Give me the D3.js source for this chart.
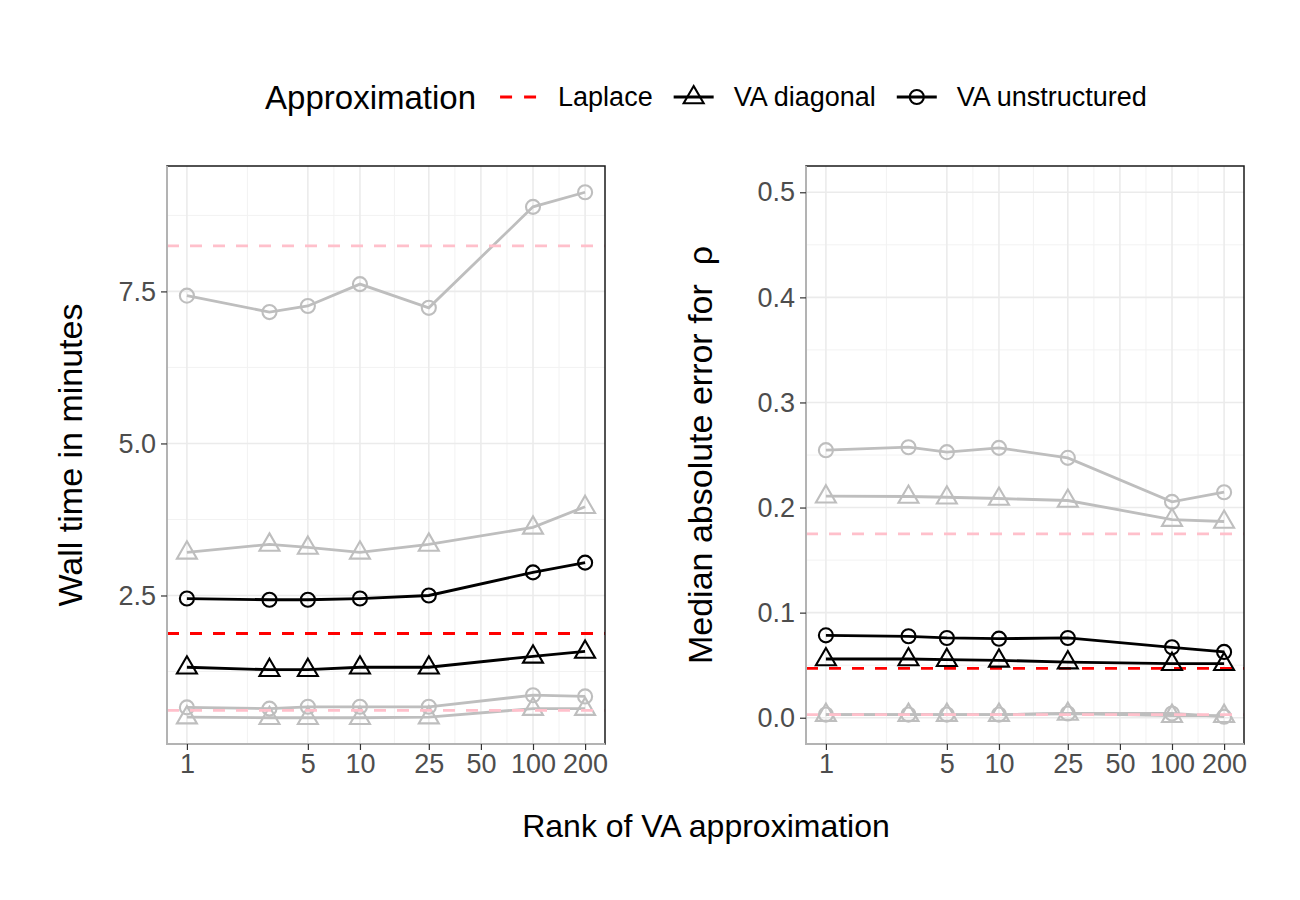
<!DOCTYPE html>
<html>
<head>
<meta charset="utf-8">
<script src="https://cdn.jsdelivr.net/npm/d3@7"></script>
<style>
  body { margin: 0; background: #fff; }
  text { font-family: "Liberation Sans", Arial, Helvetica, sans-serif; }
</style>
</head>
<body>
<div id="chart"></div>
<script>
/*
*    wall time and error vs rank of VA approximation
*/

// x: rank of the VA approximation
const ranks = [1, 3, 5, 10, 25, 100, 200];
const xTicks = [1, 5, 10, 25, 50, 100, 200];

// left panel: wall time in minutes (black = highlighted setting, gray = others)
const timeUnstructured = [2.45, 2.43, 2.43, 2.45, 2.50, 2.88, 3.04];
const timeDiagonal = [1.32, 1.28, 1.28, 1.32, 1.32, 1.50, 1.58];
const timeLaplace = 1.875;
const timeUnstructuredHigh = [7.43, 7.16, 7.26, 7.62, 7.23, 8.89, 9.13];
const timeDiagonalHigh = [3.21, 3.34, 3.29, 3.21, 3.34, 3.62, 3.96];
const timeLaplaceHigh = 8.25;
const timeUnstructuredLow = [0.66, 0.64, 0.67, 0.67, 0.67, 0.86, 0.84];
const timeDiagonalLow = [0.50, 0.49, 0.49, 0.49, 0.50, 0.64, 0.64];
const timeLaplaceLow = 0.61;
const timeTicks = [2.5, 5.0, 7.5];

// right panel: median absolute error for rho
const errUnstructured = [0.0784, 0.0775, 0.0759, 0.0752, 0.0759, 0.0670, 0.0626];
const errDiagonal = [0.0559, 0.0559, 0.0552, 0.0546, 0.0530, 0.0514, 0.0514];
const errLaplace = 0.047;
const errUnstructuredHigh = [0.2546, 0.2574, 0.2527, 0.2568, 0.2473, 0.2054, 0.2146];
const errDiagonalHigh = [0.2108, 0.2105, 0.2098, 0.2086, 0.2067, 0.1886, 0.1867];
const errLaplaceHigh = 0.175;
const errUnstructuredLow = [0.003, 0.003, 0.003, 0.003, 0.004, 0.004, 0.001];
const errDiagonalLow = [0.003, 0.003, 0.003, 0.003, 0.004, 0.002, 0.002];
const errLaplaceLow = 0.003;
const errTicks = [0.0, 0.1, 0.2, 0.3, 0.4, 0.5];

const legendLabels = ["Laplace", "VA diagonal", "VA unstructured"];

const width = 1300;
const height = 900;

const svg = d3.select("#chart")
    .append("svg")
    .attr("width", width)
    .attr("height", height);

const panelTop = 166, panelBottom = 744;

// log x scale with ggplot-like 5% expansion
function makeX(x0, x1) {
    const lo = Math.log10(1), hi = Math.log10(200);
    const pad = (hi - lo) * 0.05;
    return d3.scaleLog()
        .domain([Math.pow(10, lo - pad), Math.pow(10, hi + pad)])
        .range([x0, x1]);
}

function expand(lo, hi) {
    const pad = (hi - lo) * 0.05;
    return [lo - pad, hi + pad];
}

function panel(opts) {
    const x = makeX(opts.x0, opts.x1);
    const y = d3.scaleLinear().domain(opts.yDomain).range([panelBottom, panelTop]);
    const g = svg.append("g");

    // minor grid (midpoints of breaks)
    const xMinor = d3.pairs(xTicks).map(p => Math.sqrt(p[0] * p[1]));
    const yStep = opts.yTicks[1] - opts.yTicks[0];
    const yMinor = d3.range(opts.yTicks[0] - yStep / 2, opts.yDomain[1], yStep)
        .filter(v => v > opts.yDomain[0] && v < opts.yDomain[1]);

    g.selectAll(".xminor").data(xMinor).enter().append("line")
        .attr("x1", d => x(d)).attr("x2", d => x(d))
        .attr("y1", panelTop).attr("y2", panelBottom)
        .attr("stroke", "#f2f2f2").attr("stroke-width", 1);
    g.selectAll(".yminor").data(yMinor).enter().append("line")
        .attr("x1", opts.x0).attr("x2", opts.x1)
        .attr("y1", d => y(d)).attr("y2", d => y(d))
        .attr("stroke", "#f2f2f2").attr("stroke-width", 1);
    g.selectAll(".xmajor").data(xTicks).enter().append("line")
        .attr("x1", d => x(d)).attr("x2", d => x(d))
        .attr("y1", panelTop).attr("y2", panelBottom)
        .attr("stroke", "#ebebeb").attr("stroke-width", 1.6);
    g.selectAll(".ymajor").data(opts.yTicks).enter().append("line")
        .attr("x1", opts.x0).attr("x2", opts.x1)
        .attr("y1", d => y(d)).attr("y2", d => y(d))
        .attr("stroke", "#ebebeb").attr("stroke-width", 1.6);

    const line = d3.line()
        .x((d, i) => x(ranks[i]))
        .y(d => y(d));

    function hline(v, color) {
        g.append("line")
            .attr("x1", opts.x0).attr("x2", opts.x1)
            .attr("y1", y(v)).attr("y2", y(v))
            .attr("stroke", color)
            .attr("stroke-width", 2.8)
            .attr("stroke-dasharray", "12,11");
    }

    function series(values, color, shape) {
        g.append("path")
            .datum(values)
            .attr("d", line)
            .attr("fill", "none")
            .attr("stroke", color)
            .attr("stroke-width", 2.8);
        const pts = g.append("g").selectAll("path")
            .data(values).enter().append("path")
            .attr("transform", (d, i) => `translate(${x(ranks[i])},${y(d)})`)
            .attr("fill", "none")
            .attr("stroke", color)
            .attr("stroke-width", 2.1);
        if (shape === "circle") {
            pts.attr("d", d3.symbol().type(d3.symbolCircle).size(155));
        } else {
            pts.attr("d", "M0,-11L10,6.3L-10,6.3Z");
        }
    }

    // gray settings
    opts.gray.forEach(s => {
        series(s.unstructured, "#bebebe", "circle");
        series(s.diagonal, "#bebebe", "triangle");
    });
    opts.gray.forEach(s => hline(s.laplace, "#ffc0cb"));
    hline(opts.black.laplace, "#ff0000");
    series(opts.black.unstructured, "#000", "circle");
    series(opts.black.diagonal, "#000", "triangle");

    // panel border
    g.append("rect")
        .attr("x", opts.x0).attr("y", panelTop)
        .attr("width", opts.x1 - opts.x0).attr("height", panelBottom - panelTop)
        .attr("fill", "none").attr("stroke", "#1a1a1a").attr("stroke-width", 1.5);
    g.append("path")
        .attr("d", `M${opts.x0},${panelTop}V${panelBottom}H${opts.x1}`)
        .attr("fill", "none").attr("stroke", "#b3b3b3").attr("stroke-width", 2);

    // axes
    const xAxis = g.append("g")
        .attr("transform", `translate(0,${panelBottom})`)
        .call(d3.axisBottom(x).tickValues(xTicks).tickFormat(d3.format("d")).tickSize(6).tickPadding(4));
    const yAxis = g.append("g")
        .attr("transform", `translate(${opts.x0},0)`)
        .call(d3.axisLeft(y).tickValues(opts.yTicks).tickFormat(d3.format(".1f")).tickSize(6).tickPadding(5));
    [xAxis, yAxis].forEach(a => {
        a.select(".domain").remove();
        a.selectAll(".tick line").attr("stroke", "#333").attr("stroke-width", 1.2);
        a.selectAll(".tick text")
            .attr("fill", "#4d4d4d")
            .style("font-size", "27px");
    });

    // y title
    svg.append("text")
        .attr("transform", `translate(${opts.yTitleX},${(panelTop + panelBottom) / 2}) rotate(-90)`)
        .attr("text-anchor", "middle")
        .attr("dy", "0.35em")
        .style("font-size", "34px")
        .style("white-space", "pre")
        .text(opts.yTitle);
}

panel({
    x0: 167, x1: 605,
    yDomain: expand(
        d3.min([...timeDiagonalLow, ...timeUnstructuredLow, timeLaplaceLow]),
        d3.max([...timeUnstructuredHigh, timeLaplaceHigh])),
    yTicks: timeTicks,
    yTitle: "Wall time in minutes",
    yTitleX: 70,
    black: { unstructured: timeUnstructured, diagonal: timeDiagonal, laplace: timeLaplace },
    gray: [
        { unstructured: timeUnstructuredHigh, diagonal: timeDiagonalHigh, laplace: timeLaplaceHigh },
        { unstructured: timeUnstructuredLow, diagonal: timeDiagonalLow, laplace: timeLaplaceLow }
    ]
});

panel({
    x0: 806, x1: 1244,
    yDomain: expand(0, 0.5),
    yTicks: errTicks,
    yTitle: "Median absolute error for  \u03C1",
    yTitleX: 700,
    black: { unstructured: errUnstructured, diagonal: errDiagonal, laplace: errLaplace },
    gray: [
        { unstructured: errUnstructuredHigh, diagonal: errDiagonalHigh, laplace: errLaplaceHigh },
        { unstructured: errUnstructuredLow, diagonal: errDiagonalLow, laplace: errLaplaceLow }
    ]
});

// x title
svg.append("text")
    .attr("x", 706)
    .attr("y", 837)
    .attr("text-anchor", "middle")
    .style("font-size", "32px")
    .text("Rank of VA approximation");

// ===== LEGEND =====
const legend = svg.append("g");
const legendY = 97;
const title = legend.append("text")
    .attr("x", 0).attr("y", legendY).attr("dy", "0.35em")
    .style("font-size", "33px")
    .text("Approximation");
let cx = title.node().getComputedTextLength() + 22;

legendLabels.forEach((label, i) => {
    const key = legend.append("g").attr("transform", `translate(${cx},${legendY})`);
    if (i === 0) {
        key.append("line")
            .attr("x1", 2).attr("x2", 38)
            .attr("stroke", "#ff0000").attr("stroke-width", 2.8)
            .attr("stroke-dasharray", "12,12");
    } else {
        key.append("line")
            .attr("x1", 0).attr("x2", 40)
            .attr("stroke", "#000").attr("stroke-width", 2.8);
        key.append("path")
            .attr("transform", "translate(20,0)")
            .attr("d", i === 1 ? "M0,-11L10,6.3L-10,6.3Z" : d3.symbol().type(d3.symbolCircle).size(155)())
            .attr("fill", "none").attr("stroke", "#000").attr("stroke-width", 2.1);
    }
    cx += 60;
    const t = legend.append("text")
        .attr("x", cx).attr("y", legendY).attr("dy", "0.35em")
        .style("font-size", "27px")
        .text(label);
    cx += t.node().getComputedTextLength() + 21;
});

const legendWidth = cx - 21;
legend.attr("transform", `translate(${706 - legendWidth / 2},0)`);
</script>
</body>
</html>
